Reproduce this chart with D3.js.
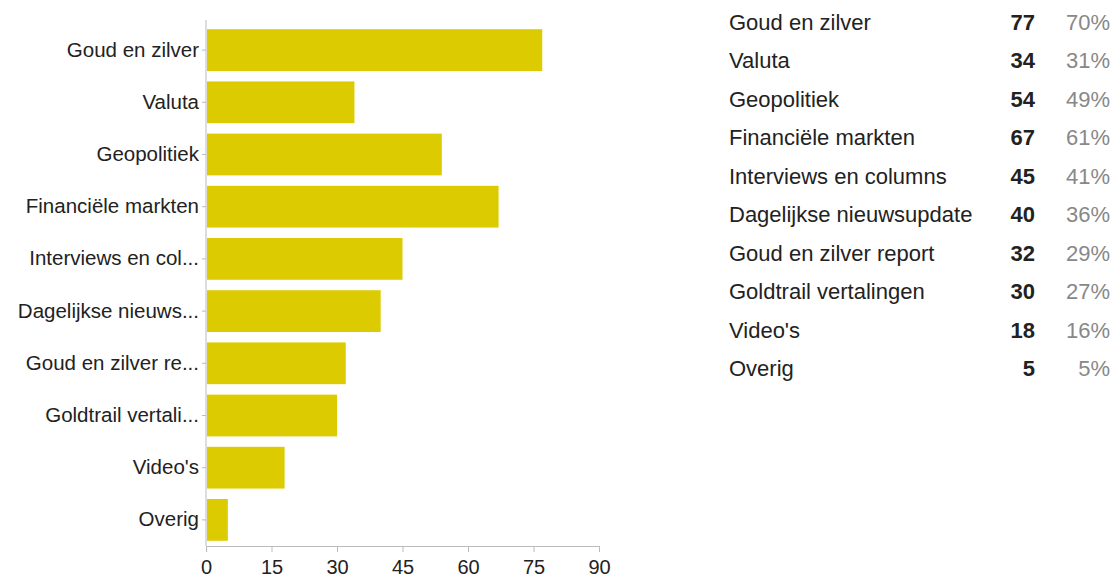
<!DOCTYPE html>
<html>
<head>
<meta charset="utf-8">
<script src="https://cdn.jsdelivr.net/npm/d3@7"></script>
<style>
  body { margin: 0; background: #fff; font-family: "Liberation Sans", Arial, sans-serif; }
  .axis path, .axis line { stroke: #bbb; }
  .axis text { fill: #222; }
</style>
</head>
<body>
<div id="chart"></div>
<script>
// data
var categories = ["Goud en zilver", "Valuta", "Geopolitiek", "Financiële markten", "Interviews en columns",
  "Dagelijkse nieuwsupdate", "Goud en zilver report", "Goldtrail vertalingen", "Video's", "Overig"];
var shortLabels = ["Goud en zilver", "Valuta", "Geopolitiek", "Financiële markten", "Interviews en col...",
  "Dagelijkse nieuws...", "Goud en zilver re...", "Goldtrail vertali...", "Video's", "Overig"];
var counts = [77, 34, 54, 67, 45, 40, 32, 30, 18, 5];
var percents = ["70%", "31%", "49%", "61%", "41%", "36%", "29%", "27%", "16%", "5%"];
var xTicks = [0, 15, 30, 45, 60, 75, 90];

var width = 1115, height = 578;
var svg = d3.select("#chart").append("svg")
    .attr("width", width)
    .attr("height", height);

var plotLeft = 206, plotRight = 599, plotTop = 24, plotBottom = 546;

var x = d3.scaleLinear().domain([0, 90]).range([plotLeft, plotRight]);
var y = d3.scaleBand().domain(categories).range([plotTop, plotBottom]).paddingInner(0.2).paddingOuter(0.1);

// bars
svg.selectAll(".bar")
    .data(categories)
    .join("rect")
    .attr("class", "bar")
    .attr("x", x(0) + 1)
    .attr("y", function(d) { return y(d); })
    .attr("width", function(d, i) { return x(counts[i]) - x(0) - 1; })
    .attr("height", y.bandwidth())
    .attr("fill", "#dccb00");

// y axis
var yAxis = svg.append("g")
    .attr("class", "axis")
    .attr("transform", `translate(${plotLeft},0)`)
    .call(d3.axisLeft(y).tickSize(4).tickPadding(3).tickSizeOuter(0)
        .tickFormat(function(d, i) { return shortLabels[i]; }));
yAxis.select(".domain").attr("d", `M0,${plotTop - 4}V${plotBottom}`);
yAxis.selectAll("text").style("font-size", "20.5px").style("font-family", "Liberation Sans, Arial, sans-serif");

// x axis
var xAxis = svg.append("g")
    .attr("class", "axis")
    .attr("transform", `translate(0,${plotBottom})`)
    .call(d3.axisBottom(x).tickValues(xTicks).tickSize(6).tickSizeOuter(0).tickPadding(8));
xAxis.selectAll("text").style("font-size", "20px").style("font-family", "Liberation Sans, Arial, sans-serif");

// table on the right
var rowY = d3.scaleBand().domain(categories).range([3, 388]);

var rows = svg.selectAll(".row")
    .data(categories)
    .join("g")
    .attr("class", "row")
    .attr("transform", function(d) { return `translate(0,${rowY(d) + rowY.bandwidth() / 2})`; });

rows.append("text")
    .attr("x", 729)
    .attr("dy", "0.35em")
    .style("font-size", "22px")
    .attr("fill", "#222")
    .text(function(d) { return d; });

rows.append("text")
    .attr("x", 1035)
    .attr("dy", "0.35em")
    .attr("text-anchor", "end")
    .style("font-size", "22px")
    .style("font-weight", "bold")
    .attr("fill", "#222")
    .text(function(d, i) { return counts[i]; });

rows.append("text")
    .attr("x", 1110)
    .attr("dy", "0.35em")
    .attr("text-anchor", "end")
    .style("font-size", "22px")
    .attr("fill", "#888")
    .text(function(d, i) { return percents[i]; });
</script>
</body>
</html>
